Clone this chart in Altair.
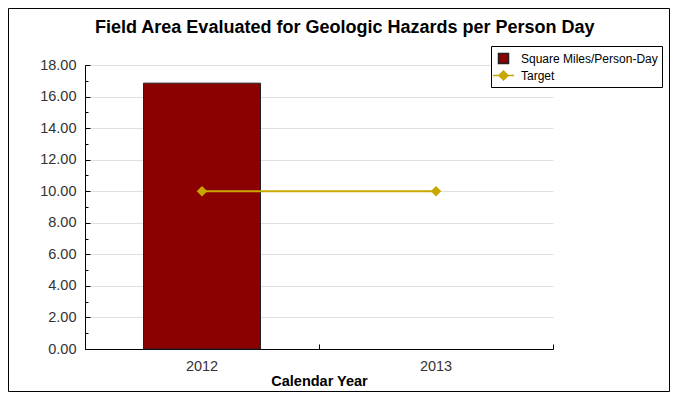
import altair as alt
import pandas as pd

years = ["2012", "2013"]
sq_miles = [16.85, None]
target = [10.0, 10.0]
series_names = ["Square Miles/Person-Day", "Target"]
series_fill = ["#8B0000", "#C8A800"]
series_stroke = ["#222222", "#C8A800"]
y_major = [0, 2, 4, 6, 8, 10, 12, 14, 16, 18]
y_all = list(range(0, 19))

bar_df = pd.DataFrame({"year": years, "value": sq_miles, "series": series_names[0]}).dropna()
line_df = pd.DataFrame({"year": years, "value": target, "series": series_names[1]})

FONT = "Liberation Sans"
W, H = 468, 284
SYM = 225

color_scale = alt.Scale(domain=series_names, range=series_fill)
stroke_scale = alt.Scale(domain=series_names, range=series_stroke)
shape_scale = alt.Scale(domain=series_names,
                        range=["M-0.67,-0.67L0.67,-0.67L0.67,0.67L-0.67,0.67Z",
                               "M-1.4,0L1.4,0M0,-0.6L0.6,0L0,0.6L-0.6,0Z"])
x_scale = alt.Scale(domain=years, paddingInner=0, paddingOuter=0)
y_scale = alt.Scale(domain=[0, 18], nice=False)

legend = alt.Legend(
    title=None,
    orient="none",
    legendX=406,
    legendY=-19,
    strokeColor="black",
    fillColor="white",
    padding=4,
    rowPadding=0,
    labelFont=FONT,
    labelFontSize=12,
    labelColor="#000",
    symbolSize=SYM,
    symbolStrokeWidth=1.5,
    symbolOpacity=1,
    labelOffset=9,
    labelLimit=200,
)

bars = alt.Chart(bar_df).mark_bar(width={"band": 0.5}, strokeWidth=1, opacity=1).encode(
    x=alt.X("year:N", scale=x_scale, title="Calendar Year",
            axis=alt.Axis(labelAngle=0, ticks=False, domainColor="black", labelFont=FONT,
                          labelFontSize=14.5, labelColor="#333", labelPadding=10,
                          titleFont=FONT, titleFontSize=14.5, titleFontWeight="bold",
                          titleColor="#000", titlePadding=2, grid=False)),
    y=alt.Y("value:Q", scale=y_scale, title=None,
            axis=alt.Axis(values=y_major, format=".2f", ticks=False, domainColor="black",
                          grid=True, gridColor="#e0e0e0", labelFont=FONT, labelFontSize=14.5,
                          labelColor="#333", labelPadding=9)),
    color=alt.Color("series:N", scale=color_scale, legend=legend),
    stroke=alt.Stroke("series:N", scale=stroke_scale, legend=legend),
)

line = alt.Chart(line_df).mark_line(strokeWidth=2, color="#C8A800").encode(
    x=alt.X("year:N", scale=x_scale,
            axis=alt.Axis(orient="top", offset=-H, labels=False, domain=False, title=None,
                          tickBand="extent", ticks=True, tickSize=5, tickColor="black", grid=False)),
    y=alt.Y("value:Q", scale=y_scale,
            axis=alt.Axis(orient="right", offset=-W, labels=False, domain=False, title=None,
                          values=y_all, ticks=True, tickColor="black", grid=False,
                          tickSize={"condition": {"test": "datum.value % 2 === 0", "value": 5}, "value": 3})),
)

points = alt.Chart(line_df).mark_point(filled=True, shape="diamond", size=110, opacity=1,
                                       color="#C8A800").encode(
    x=alt.X("year:N", scale=x_scale, axis=None),
    y=alt.Y("value:Q", scale=y_scale, axis=None),
)

legend_keys = alt.Chart(line_df).mark_point(filled=True, size=SYM, opacity=0).encode(
    x=alt.X("year:N", scale=x_scale, axis=None),
    y=alt.Y("value:Q", scale=y_scale, axis=None),
    color=alt.Color("series:N", scale=color_scale, legend=legend),
    stroke=alt.Stroke("series:N", scale=stroke_scale, legend=legend),
    shape=alt.Shape("series:N", scale=shape_scale, legend=legend),
)

frame = alt.Chart(pd.DataFrame({"k": [0]})).mark_rect(fill=None, stroke="black", strokeWidth=1, clip=False).encode(
    x=alt.value(-76.5), x2=alt.value(584.5), y=alt.value(-56.5), y2=alt.value(326.5)
)

chart = alt.layer(frame, bars, line, points, legend_keys).resolve_axis(x="independent", y="independent").properties(
    width=W,
    height=H,
    autosize=alt.AutoSizeParams(type="none"),
    padding={"left": 77, "top": 57, "right": 117, "bottom": 43},
    title=alt.TitleParams(
        "Field Area Evaluated for Geologic Hazards per Person Day",
        font=FONT, fontSize=18, fontWeight="bold", color="#000",
        anchor="start", frame="group", dx=10, offset=-43, baseline="alphabetic",
    ),
).configure_view(stroke=None)

chart.save("out.html", embed_options={"renderer": "svg", "actions": False})
